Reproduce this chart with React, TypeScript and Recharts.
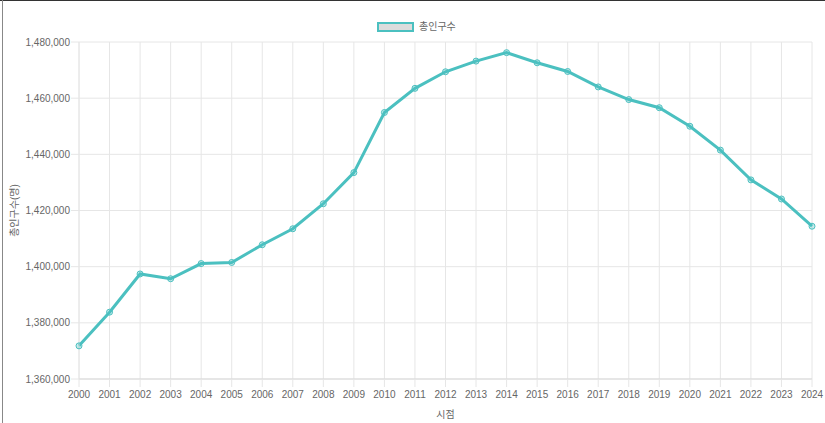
import { CartesianGrid, Line, LineChart, XAxis, YAxis } from "recharts";

const years = [
  "2000", "2001", "2002", "2003", "2004", "2005", "2006", "2007", "2008",
  "2009", "2010", "2011", "2012", "2013", "2014", "2015", "2016", "2017",
  "2018", "2019", "2020", "2021", "2022", "2023", "2024",
];

const population = [
  1371800, 1383800, 1397400, 1395700, 1401100, 1401500, 1407800, 1413500,
  1422400, 1433500, 1454900, 1463500, 1469400, 1473200, 1476200, 1472600,
  1469500, 1464000, 1459500, 1456600, 1450000, 1441500, 1430900, 1424100,
  1414400,
];

const yTicks = [1360000, 1380000, 1400000, 1420000, 1440000, 1460000, 1480000];

const seriesName = "총인구수";
const yTitle = "총인구수(명)";
const xTitle = "시점";

const FONT = '"Liberation Sans", Arial, "Noto Sans CJK KR", sans-serif';
const FS = 10;
const TEAL = "#4bc0c0";
const GRID = "#e6e6e6";
const INK = "#666";

const data = years.map((year, i) => ({ year, value: population[i] }));

export default function App() {
  return (
    <div
      style={{
        position: "absolute",
        left: 0,
        top: 0,
        width: 825,
        height: 423,
        background: "#fff",
        fontFamily: FONT,
        overflow: "hidden",
      }}
    >
      {/* frame edges seen in the capture */}
      <div style={{ position: "absolute", left: 0, top: 0, width: 825, height: 1, background: "#333" }} />
      <div style={{ position: "absolute", left: 2, top: 0, width: 1, height: 423, background: "#888" }} />

      {/* legend */}
      <div
        style={{
          position: "absolute",
          left: 377,
          top: 21,
          display: "flex",
          alignItems: "center",
          fontSize: FS,
          lineHeight: "12px",
          color: INK,
        }}
      >
        <span
          style={{
            display: "inline-block",
            width: 33,
            height: 6,
            border: `2px solid ${TEAL}`,
            background: "#dcdcdc",
            marginRight: 5,
          }}
        />
        <span>{seriesName}</span>
      </div>

      <LineChart
        data={data}
        height={423}
        margin={{ top: 42, right: 13, bottom: 0, left: 0 }}
        style={{ position: "absolute", left: 0, top: 0 }}
        width={825}
      >
        <CartesianGrid stroke={GRID} />
        <XAxis
          axisLine={{ stroke: "#d9d9d9" }}
          dataKey="year"
          height={44}
          interval={0}
          label={{
            value: xTitle,
            position: "insideBottom",
            offset: 5,
            fill: INK,
            fontSize: FS,
            fontFamily: FONT,
          }}
          padding={{ left: 0, right: 0 }}
          tick={{ fill: INK, fontSize: FS, fontFamily: FONT }}
          tickLine={{ stroke: GRID }}
          tickMargin={4}
          tickSize={8}
        />
        <YAxis
          axisLine={{ stroke: GRID }}
          domain={[1360000, 1480000]}
          label={{
            value: yTitle,
            angle: -90,
            position: "insideLeft",
            offset: 14,
            style: { textAnchor: "middle" },
            fill: INK,
            fontSize: FS,
            fontFamily: FONT,
          }}
          tick={{ fill: INK, fontSize: FS, fontFamily: FONT }}
          tickFormatter={(v: number) => v.toLocaleString("en-US")}
          tickLine={{ stroke: GRID }}
          tickMargin={1}
          tickSize={8}
          ticks={yTicks}
          width={79}
        />
        <Line
          dataKey="value"
          dot={{ r: 3, fill: "rgba(75,192,192,0.3)", stroke: TEAL, strokeWidth: 1 }}
          isAnimationActive={false}
          name={seriesName}
          stroke={TEAL}
          strokeWidth={3}
          type="linear"
        />
      </LineChart>
    </div>
  );
}
